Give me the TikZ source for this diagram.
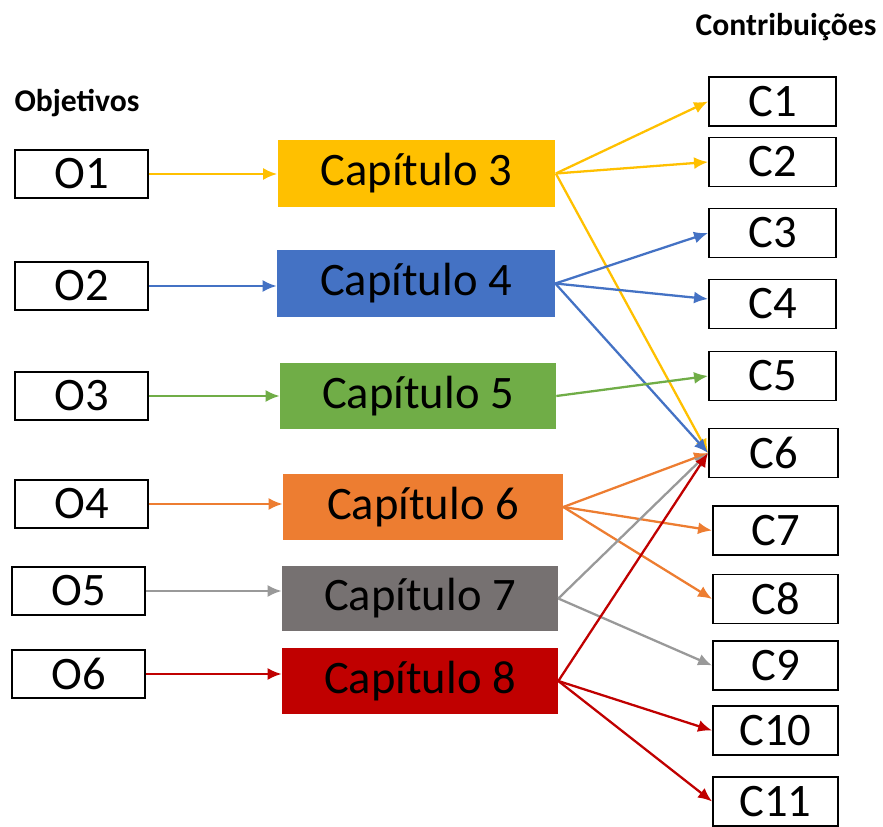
\documentclass[tikz,border=0pt]{standalone}
\usepackage{fontspec}
\setmainfont{Carlito}
\usetikzlibrary{arrows.meta,positioning}
\definecolor{cyel}{HTML}{FFC000}
\definecolor{cblu}{HTML}{4472C4}
\definecolor{cgre}{HTML}{70AD47}
\definecolor{cora}{HTML}{ED7D31}
\definecolor{cgra}{HTML}{767171}
\definecolor{cgrl}{HTML}{999999}
\definecolor{cred}{HTML}{C00000}

\begin{document}
\begin{tikzpicture}[x=0.02cm,y=-0.02cm,
  every node/.style={align=center,inner sep=0pt,font=\fontsize{26.5}{31}\selectfont},%
  ob/.style={draw=black,line width=1.1pt,minimum width=2.66cm,minimum height=0.96cm},%
  cb/.style={draw=black,line width=1.1pt,minimum width=2.54cm,minimum height=0.98cm},%
  ch/.style={minimum width=5.56cm,minimum height=1.34cm},%
  hd/.style={font=\fontsize{18}{21}\selectfont\bfseries},%
  e/.style={-{Latex[length=0.28cm,width=0.24cm]},line width=1.3pt},%
  ]
  \useasboundingbox (0,0) rectangle (883,827);

  % headings
  \node (objt) [hd] at (77,103) {Objetivos};
  \node (cont) [hd] at (786,27) {Contribuições};

  % objectives
  \node (o1) [ob] at (81.5,174) {O1};
  \node (o2) [ob] at (81.5,286) {O2};
  \node (o3) [ob] at (81.5,396) {O3};
  \node (o4) [ob] at (81.5,504) {O4};
  \node (o5) [ob] at (78.5,591) {O5};
  \node (o6) [ob] at (78.5,674) {O6};

  % chapters
  \node (cap3) [ch,fill=cyel] at (416.5,173.5) {Capítulo 3};
  \node (cap4) [ch,fill=cblu] at (416,283.5) {Capítulo 4};
  \node (cap5) [ch,fill=cgre,minimum width=5.52cm] at (418,396) {Capítulo 5};
  \node (cap6) [ch,fill=cora,minimum width=5.6cm] at (423,507) {Capítulo 6};
  \node (cap7) [ch,fill=cgra,minimum width=5.52cm,minimum height=1.3cm] at (420,598.5) {Capítulo 7};
  \node (cap8) [ch,fill=cred,minimum width=5.52cm,minimum height=1.32cm] at (420,681) {Capítulo 8};

  % contributions
  \node (c1) [cb] at (772.5,101.5) {C1};
  \node (c2) [cb] at (772.5,162) {C2};
  \node (c3) [cb] at (772.5,233) {C3};
  \node (c4) [cb] at (772.5,304) {C4};
  \node (c5) [cb] at (772.5,376) {C5};
  \node (c6) [cb,minimum width=2.58cm] at (773.5,453) {C6};
  \node (c7) [cb,minimum width=2.5cm] at (775.5,530.5) {C7};
  \node (c8) [cb,minimum width=2.5cm] at (775.5,599) {C8};
  \node (c9) [cb,minimum width=2.5cm] at (775.5,665.5) {C9};
  \node (c10) [cb,minimum width=2.5cm] at (775.5,730.5) {C10};
  \node (c11) [cb,minimum width=2.5cm] at (775.5,801.5) {C11};

  \draw [e,cyel] (o1) -- (o1 -| cap3.west);
  \draw [e,cblu] (o2) -- (o2 -| cap4.west);
  \draw [e,cgre] (o3) -- (o3 -| cap5.west);
  \draw [e,cora] (o4) -- (o4 -| cap6.west);
  \draw [e,cgrl] (o5) -- (o5 -| cap7.west);
  \draw [e,cred] (o6) -- (o6 -| cap8.west);

  \draw [e,cyel] (cap3.east) -- (c1.west);
  \draw [e,cyel] (cap3.east) -- (c2.west);
  \draw [e,cyel] (cap3.east) -- (c6.west);
  \draw [e,cblu] (cap4.east) -- (c3.west);
  \draw [e,cblu] (cap4.east) -- ([yshift=0.1cm]c4.west);
  \draw [e,cblu] (cap4.east) -- (c6.west);
  \draw [e,cgre] (cap5.east) -- (c5.west);
  \draw [e,cora] (cap6.east) -- (c6.west);
  \draw [e,cora] (cap6.east) -- (c7.west);
  \draw [e,cora] (cap6.east) -- (c8.west);
  \draw [e,cgrl] (cap7.east) -- (c6.west);
  \draw [e,cgrl] (cap7.east) -- (c9.west);
  \draw [e,cred] (cap8.east) -- (c6.west);
  \draw [e,cred] (cap8.east) -- (c10.west);
  \draw [e,cred] (cap8.east) -- (c11.west);
\end{tikzpicture}
\end{document}
